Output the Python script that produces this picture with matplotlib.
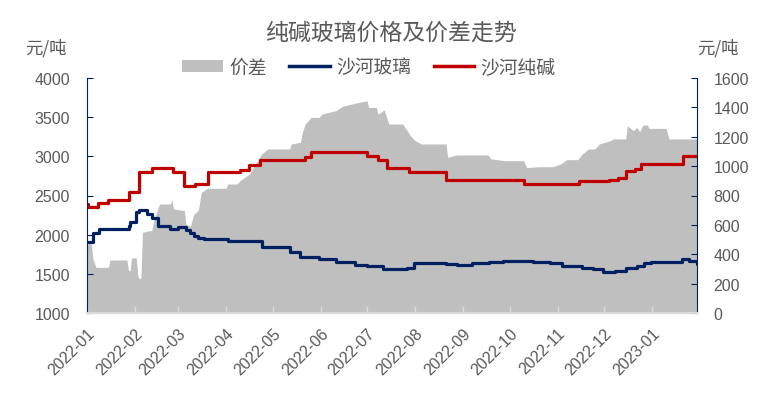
import matplotlib
matplotlib.use("Agg")
import matplotlib.pyplot as plt
import matplotlib.dates as mdates
from matplotlib.patches import Patch
from matplotlib.lines import Line2D
import pandas as pd

# ---------------- data ----------------
soda_dates = ["2022-01-01", "2022-01-02", "2022-01-08", "2022-01-15", "2022-01-28",
              "2022-02-04", "2022-02-12", "2022-02-26", "2022-03-05", "2022-03-12",
              "2022-03-20", "2022-04-10", "2022-04-16", "2022-04-23", "2022-05-22",
              "2022-05-26", "2022-07-01", "2022-07-08", "2022-07-14", "2022-07-28",
              "2022-08-21", "2022-10-10", "2022-11-15", "2022-12-04", "2022-12-10",
              "2022-12-15", "2022-12-21", "2022-12-25", "2023-01-21", "2023-01-31"]
soda_vals = [2390, 2355, 2404, 2446, 2541,
             2796, 2851, 2796, 2617, 2647,
             2796, 2826, 2889, 2953, 2996,
             3059, 3000, 2953, 2847, 2800,
             2698, 2643, 2685, 2702, 2719,
             2817, 2838, 2898, 3000, 3000]

glass_dates = ["2022-01-01", "2022-01-05", "2022-01-09", "2022-01-28", "2022-01-29",
               "2022-02-02", "2022-02-04", "2022-02-09", "2022-02-12", "2022-02-16",
               "2022-02-24", "2022-03-01", "2022-03-06", "2022-03-09", "2022-03-11",
               "2022-03-14", "2022-03-18", "2022-04-02", "2022-04-24", "2022-05-12",
               "2022-05-19", "2022-05-31", "2022-06-11", "2022-06-23", "2022-07-01",
               "2022-07-11", "2022-07-27", "2022-07-31", "2022-08-21", "2022-08-28",
               "2022-09-07", "2022-09-18", "2022-09-27", "2022-10-16", "2022-10-27",
               "2022-11-04", "2022-11-17", "2022-11-24", "2022-11-30", "2022-12-08",
               "2022-12-15", "2022-12-22", "2022-12-27", "2022-12-31", "2023-01-20",
               "2023-01-25", "2023-01-30", "2023-01-31"]
glass_vals = [1910, 2017, 2072, 2115, 2166,
              2285, 2319, 2264, 2209, 2115,
              2072, 2094, 2064, 2021, 1979,
              1957, 1945, 1923, 1839, 1783,
              1719, 1689, 1647, 1613, 1596,
              1562, 1574, 1638, 1626, 1617,
              1634, 1647, 1660, 1647, 1638,
              1604, 1580, 1562, 1528, 1540,
              1570, 1604, 1634, 1647, 1689,
              1668, 1626, 1626]

spread_dates = ["2022-01-01", "2022-01-04", "2022-01-05", "2022-01-07", "2022-01-15",
                "2022-01-16", "2022-01-27", "2022-01-28", "2022-01-29", "2022-01-30",
                "2022-02-02", "2022-02-03", "2022-02-04", "2022-02-05", "2022-02-06",
                "2022-02-10", "2022-02-12", "2022-02-13", "2022-02-17", "2022-02-24",
                "2022-02-25", "2022-02-26", "2022-03-05", "2022-03-06", "2022-03-09",
                "2022-03-11", "2022-03-14", "2022-03-16", "2022-03-20", "2022-04-01",
                "2022-04-02", "2022-04-08", "2022-04-10", "2022-04-16", "2022-04-24",
                "2022-04-28", "2022-05-12", "2022-05-13", "2022-05-19", "2022-05-20",
                "2022-05-22", "2022-05-26", "2022-05-31", "2022-06-02", "2022-06-11",
                "2022-06-15", "2022-06-24", "2022-07-01", "2022-07-02", "2022-07-07",
                "2022-07-08", "2022-07-10", "2022-07-12", "2022-07-15", "2022-07-24",
                "2022-07-29", "2022-08-01", "2022-08-05", "2022-08-21", "2022-08-22",
                "2022-08-28", "2022-09-17", "2022-09-19", "2022-09-28", "2022-10-10",
                "2022-10-12", "2022-10-20", "2022-10-29", "2022-11-03", "2022-11-07",
                "2022-11-14", "2022-11-17", "2022-11-21", "2022-11-25", "2022-11-28",
                "2022-12-05", "2022-12-07", "2022-12-15", "2022-12-16", "2022-12-20",
                "2022-12-22", "2022-12-24", "2022-12-26", "2022-12-29", "2022-12-30",
                "2023-01-10", "2023-01-12", "2023-01-31"]
spread_vals = [470, 470, 368, 311, 311,
               361, 361, 288, 288, 375,
               375, 254, 231, 240, 549,
               560, 560, 617, 742, 742,
               771, 708, 697, 606, 590,
               670, 697, 822, 849, 849,
               878, 878, 901, 946, 1083,
               1117, 1117, 1151, 1162, 1219,
               1287, 1332, 1332, 1355, 1378,
               1407, 1430, 1445, 1400, 1400,
               1355, 1366, 1384, 1287, 1287,
               1207, 1173, 1151, 1151, 1060,
               1076, 1076, 1049, 1037, 1037,
               990, 996, 996, 1015, 1044,
               1044, 1083, 1117, 1117, 1151,
               1173, 1185, 1185, 1275, 1241,
               1264, 1234, 1280, 1280, 1257,
               1257, 1185, 1185]

left_ticks = [1000, 1500, 2000, 2500, 3000, 3500, 4000]
right_ticks = [0, 200, 400, 600, 800, 1000, 1200, 1400, 1600]

title = "纯碱玻璃价格及价差走势"
unit = "元/吨"
label_spread = "价差"
label_glass = "沙河玻璃"
label_soda = "沙河纯碱"

# ---------------- style ----------------
NAVY = "#002060"
RED = "#C00000"
GRAY = "#BFBFBF"
TXT = "#595959"
CJK = ["Noto Sans CJK SC", "DejaVu Sans"]
NUM = ["Liberation Sans", "DejaVu Sans"]

plt.rcParams["font.family"] = NUM

fig = plt.figure(figsize=(7.68, 4.14), dpi=100)
ax = fig.add_axes([86.7 / 768, 1 - 314 / 414, (697 - 86.7) / 768, (314 - 79) / 414])
ax2 = ax.twinx()
ax.set_zorder(ax2.get_zorder() + 1)
ax.patch.set_visible(False)

sd = pd.to_datetime(spread_dates)
ax2.fill_between(sd, 0, spread_vals, color=GRAY, linewidth=0)

ax.plot(pd.to_datetime(glass_dates), glass_vals, color=NAVY, lw=2.3,
        drawstyle="steps-post", solid_joinstyle="round")
ax.plot(pd.to_datetime(soda_dates), soda_vals, color=RED, lw=2.3,
        drawstyle="steps-post", solid_joinstyle="round")

ax.set_xlim(pd.Timestamp("2022-01-01"), pd.Timestamp("2023-01-30"))
ax.set_ylim(1000, 4000)
ax2.set_ylim(0, 1600)
ax.set_yticks(left_ticks)
ax2.set_yticks(right_ticks)

ax.xaxis.set_major_locator(mdates.MonthLocator())
ax.xaxis.set_major_formatter(mdates.DateFormatter("%Y-%m"))

for a in (ax, ax2):
    a.spines["top"].set_visible(False)
    a.spines["bottom"].set_color("#D9D9D9")
    a.spines["bottom"].set_linewidth(1.5)
    a.spines["left"].set_color(NAVY)
    a.spines["right"].set_color(NAVY)
ax.spines["right"].set_visible(False)
ax2.spines["left"].set_visible(False)

ax.tick_params(axis="y", direction="in", color=NAVY, length=4, labelsize=11.5,
               labelcolor=TXT, pad=12)
ax2.tick_params(axis="y", direction="in", color=NAVY, length=4, labelsize=11.5,
                labelcolor=TXT, pad=12)
ax.tick_params(axis="x", direction="in", color="#D9D9D9", length=5, width=1,
               labelsize=11.5, labelcolor=TXT, pad=9)
for lab in ax.get_xticklabels():
    lab.set_rotation(45)
    lab.set_ha("right")
    lab.set_va("top")
    lab.set_rotation_mode("anchor")

fig.text(391 / 768, 1 - 33 / 414, title, ha="center", va="center",
         fontsize=16.5, color=TXT, family=CJK)
fig.text(46 / 768, 1 - 48 / 414, unit, ha="center", va="center",
         fontsize=12.5, color=TXT, family=CJK)
fig.text(718 / 768, 1 - 48 / 414, unit, ha="center", va="center",
         fontsize=12.5, color=TXT, family=CJK)

handles = [Patch(facecolor=GRAY, edgecolor="none"),
           Line2D([], [], color=NAVY, lw=2.5),
           Line2D([], [], color=RED, lw=2.5)]
fig.legend(handles, [label_spread, label_glass, label_soda], loc="center",
           bbox_to_anchor=(369 / 768, 1 - 68 / 414), ncol=3, frameon=False,
           prop={"family": CJK, "size": 13.5}, labelcolor=TXT,
           handlelength=2.15, handleheight=0.55, handletextpad=0.35, columnspacing=1.2)

fig.savefig("out.png", dpi=100)
